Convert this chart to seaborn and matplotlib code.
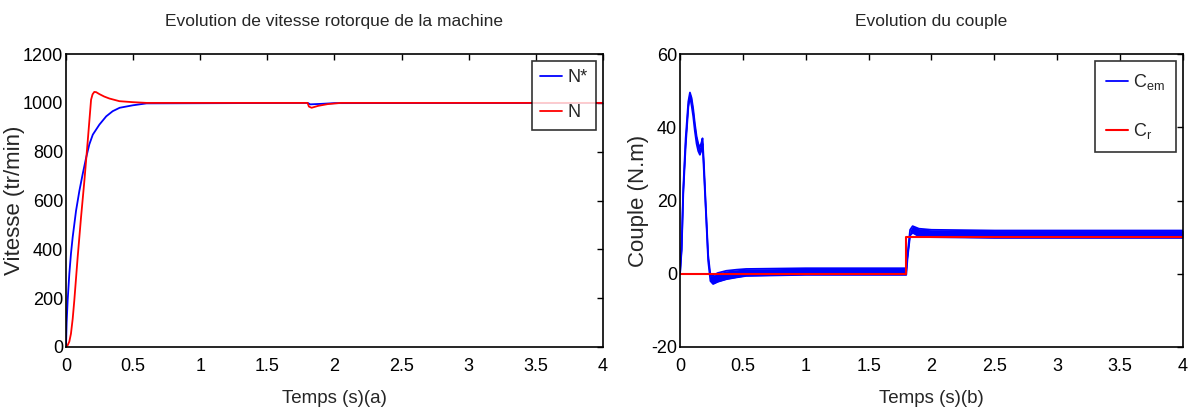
import numpy as np
import pandas as pd
import seaborn as sns
import matplotlib.pyplot as plt

# --- vitesse (a) ---
t_nref = [0, 0.005, 0.0125, 0.025, 0.037, 0.05, 0.075, 0.1, 0.124, 0.15, 0.174, 0.2, 0.249, 0.3,
          0.348, 0.4, 0.497, 0.6, 1.8, 1.82, 1.9, 2.0, 4.0]
n_ref = [0, 100, 190, 300, 381, 450, 558, 640, 707, 775, 830, 870, 911, 945,
         966, 980, 990, 998, 1000, 994, 996, 999, 1000]
t_n = [0, 0.0125, 0.025, 0.037, 0.05, 0.062, 0.087, 0.112, 0.137, 0.162, 0.187, 0.198, 0.211, 0.225,
       0.249, 0.285, 0.323, 0.398, 0.497, 0.6, 1.8, 1.81, 1.83, 1.88, 1.95, 2.05, 4.0]
n_mes = [0, 7, 22, 54, 115, 190, 367, 530, 680, 843, 1013, 1035, 1045, 1044,
         1036, 1026, 1018, 1007, 1003, 1000, 1000, 985, 980, 988, 995, 1000, 1000]

# --- couple (b) ---
t_cem = [0, 0.013, 0.026, 0.045, 0.066, 0.079, 0.092, 0.105, 0.118, 0.132, 0.145, 0.158, 0.172, 0.179,
         0.19, 0.205, 0.224, 0.242, 0.263, 0.3, 0.368, 0.45, 0.526, 1.0, 1.799, 1.81, 1.83, 1.85,
         1.9, 2.0, 2.5, 4.0]
cem_hi = [0, 7.5, 23.5, 37, 47, 49.5, 48, 45, 41, 37.5, 35.5, 34.5, 36, 37,
          30, 18.5, 5, -0.5, -0.5, 0.2, 0.8, 1.1, 1.3, 1.5, 1.5, 5.5, 12, 13,
          12.3, 12, 11.8, 11.8]
cem_lo = [0, 6.5, 22, 35, 45.5, 48.5, 46, 43, 39, 35.5, 33.5, 32.5, 34, 35.5,
          28, 17.5, 3.5, -2, -2.8, -2.2, -1.5, -1.0, -0.6, -0.3, -0.3, 4.5, 10.5, 11.2,
          10.2, 10, 9.8, 9.8]
t_cr = [0, 1.8, 1.8, 4.0]
cr = [0, 0, 10, 10]

sns.set_style("white")
plt.rcParams['font.family'] = ['Liberation Sans Narrow', 'Liberation Sans', 'DejaVu Sans']
plt.rcParams['mathtext.default'] = 'regular'
plt.rcParams['axes.unicode_minus'] = False
plt.rcParams['xtick.direction'] = 'in'
plt.rcParams['ytick.direction'] = 'in'

fig = plt.figure(figsize=(11.93, 4.16), dpi=100)
ax1 = fig.add_axes([0.0553, 0.166, 0.450, 0.704])
ax2 = fig.add_axes([0.570, 0.166, 0.4216, 0.704])

kw = dict(estimator=None, sort=False)
df_ref = pd.DataFrame({'t': t_nref, 'v': n_ref})
df_mes = pd.DataFrame({'t': t_n, 'v': n_mes})
sns.lineplot(data=df_ref, x='t', y='v', ax=ax1, color='#0000ff', lw=1.3, label='N*', **kw)
sns.lineplot(data=df_mes, x='t', y='v', ax=ax1, color='#ff0000', lw=1.3, label='N', **kw)
ax1.set_xlim(0, 4)
ax1.set_ylim(0, 1200)
ax1.set_title('Evolution de vitesse rotorque de la machine', fontsize=12.5, pad=20)
ax1.set_xlabel('Temps (s)(a)', fontsize=13.5, labelpad=11)
ax1.set_ylabel('Vitesse (tr/min)', fontsize=16)
ax1.yaxis.set_label_coords(-0.077, 0.5)
ax1.set_yticks(np.arange(0, 1201, 200))

df_cem_hi = pd.DataFrame({'t': t_cem, 'v': cem_hi})
df_cem_lo = pd.DataFrame({'t': t_cem, 'v': cem_lo})
df_cr = pd.DataFrame({'t': t_cr, 'v': cr})
ax2.fill_between(t_cem, cem_lo, cem_hi, color='#0000ff', lw=0)
sns.lineplot(data=df_cem_hi, x='t', y='v', ax=ax2, color='#0000ff', lw=1.3, label='$C_{em}$', **kw)
sns.lineplot(data=df_cem_lo, x='t', y='v', ax=ax2, color='#0000ff', lw=1.3, **kw)
sns.lineplot(data=df_cr, x='t', y='v', ax=ax2, color='#ff0000', lw=1.5, label='$C_r$', **kw)
ax2.set_xlim(0, 4)
ax2.set_ylim(-20, 60)
ax2.set_title('Evolution du couple', fontsize=12.5, pad=20)
ax2.set_xlabel('Temps (s)(b)', fontsize=13.5, labelpad=11)
ax2.set_ylabel('Couple (N.m)', fontsize=16)
ax2.yaxis.set_label_coords(-0.062, 0.5)
ax2.set_yticks(np.arange(-20, 61, 20))

for ax in (ax1, ax2):
    ax.set_xticks(np.arange(0, 4.01, 0.5))
    ax.set_xticklabels(['0', '0.5', '1', '1.5', '2', '2.5', '3', '3.5', '4'])
    ax.tick_params(labelsize=13, length=4, width=1, top=True, right=True, pad=2, colors='black')
    ax.tick_params(axis='x', pad=8)
    for s in ax.spines.values():
        s.set_color('black')
        s.set_linewidth(1.2)

leg1 = ax1.legend(loc='upper right', fontsize=13, frameon=True, fancybox=False, edgecolor='black',
                  handlelength=1.2, handletextpad=0.3, borderpad=0.45, borderaxespad=0.4,
                  labelspacing=1.0)
leg2 = ax2.legend(loc='upper right', fontsize=13, frameon=True, fancybox=False, edgecolor='black',
                  handlelength=1.2, handletextpad=0.3, borderpad=0.6, borderaxespad=0.4,
                  labelspacing=1.6)
for leg in (leg1, leg2):
    leg.get_frame().set_linewidth(1.2)

plt.savefig('out.png', dpi=100)
plt.close()
